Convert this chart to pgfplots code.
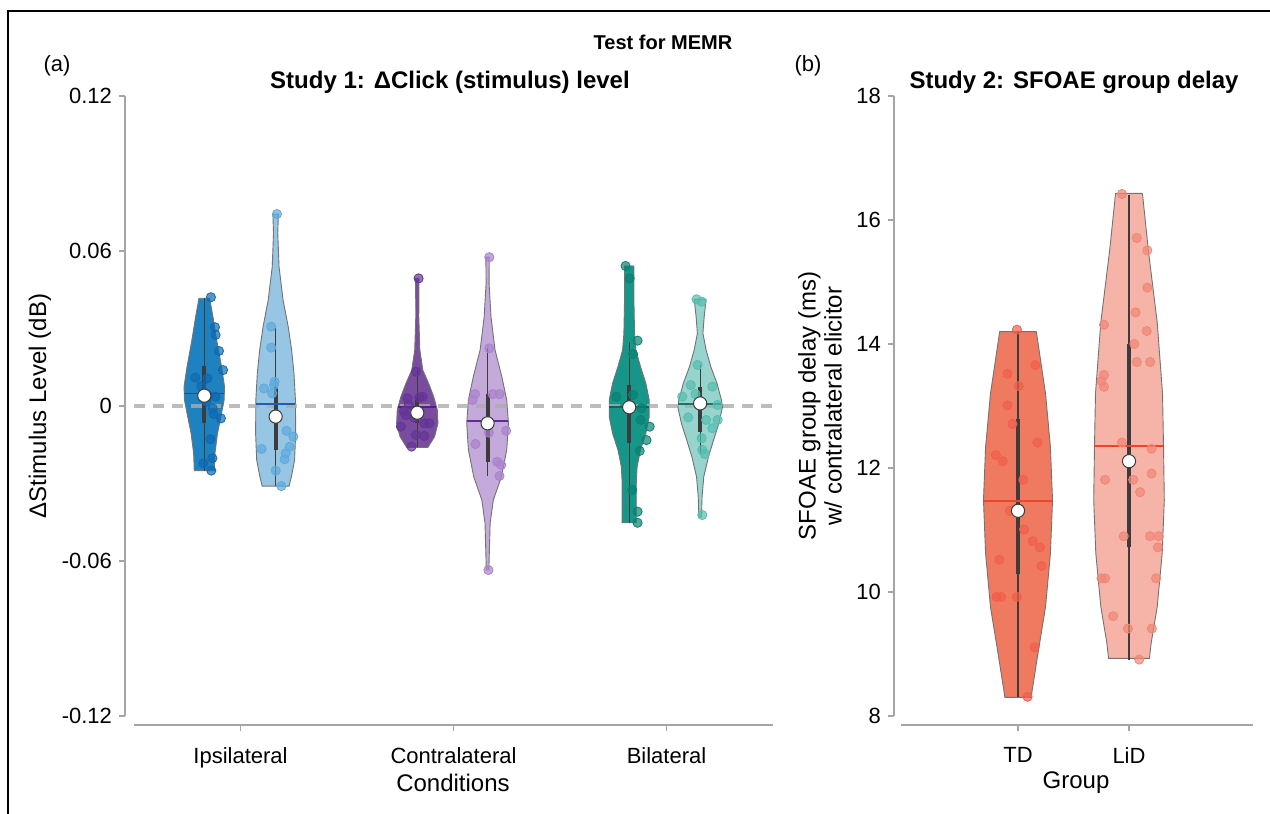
\documentclass[border=0pt]{standalone}
\usepackage{pgfplots}
\pgfplotsset{compat=1.18}
\usepackage{pgfplotstable}
\usepackage{fontspec}
\setmainfont{Liberation Sans}

\definecolor{ipdF}{RGB}{30,130,192}
\definecolor{ipdP}{RGB}{15,105,175}
\definecolor{ipdM}{RGB}{25,80,165}
\definecolor{iplF}{RGB}{150,198,228}
\definecolor{iplP}{RGB}{95,170,220}
\definecolor{iplM}{RGB}{30,95,180}
\definecolor{cdF}{RGB}{122,76,160}
\definecolor{cdP}{RGB}{100,52,150}
\definecolor{cdM}{RGB}{85,30,140}
\definecolor{clF}{RGB}{195,170,218}
\definecolor{clP}{RGB}{170,130,205}
\definecolor{clM}{RGB}{95,45,150}
\definecolor{bdF}{RGB}{22,150,136}
\definecolor{bdP}{RGB}{10,130,115}
\definecolor{bdM}{RGB}{10,100,90}
\definecolor{blF}{RGB}{150,212,205}
\definecolor{blP}{RGB}{85,190,175}
\definecolor{blM}{RGB}{20,120,105}
\definecolor{tdF}{RGB}{240,122,96}
\definecolor{tdP}{RGB}{240,95,75}
\definecolor{ldF}{RGB}{246,180,168}
\definecolor{ldP}{RGB}{240,135,118}
\definecolor{redM}{RGB}{235,70,45}
\definecolor{vgray}{RGB}{115,115,115}
\definecolor{boxgray}{RGB}{60,60,60}
\definecolor{axgray}{RGB}{165,165,165}
\definecolor{zerogray}{RGB}{172,172,172}

% violin outlines: y, signed offset from the violin centre (x units)
\pgfplotstableread{
y d
0.0417 0.025
0.0346 0.0405
0.0256 0.058
0.0152 0.081
0.0075 0.095
0.0023 0.093
-0.0041 0.078
-0.0106 0.062
-0.0183 0.050
-0.0250 0.047
-0.0250 -0.047
-0.0183 -0.050
-0.0106 -0.062
-0.0041 -0.078
0.0023 -0.093
0.0075 -0.095
0.0152 -0.081
0.0256 -0.058
0.0346 -0.0405
0.0417 -0.025
0.0417 0.025
}\ipd
\pgfplotstableread{
y d
0.0743 0.013
0.0669 0.010
0.0539 0.016
0.0410 0.035
0.0307 0.059
0.0217 0.075
0.0127 0.086
0.0023 0.093
-0.0106 0.094
-0.0209 0.089
-0.0274 0.074
-0.0310 0.063
-0.0310 -0.063
-0.0274 -0.074
-0.0209 -0.089
-0.0106 -0.094
0.0023 -0.093
0.0127 -0.086
0.0217 -0.075
0.0307 -0.059
0.0410 -0.035
0.0539 -0.016
0.0669 -0.010
0.0743 -0.013
0.0743 0.013
}\ipl
\pgfplotstableread{
y d
0.0494 0.008
0.0346 0.007
0.0217 0.012
0.0139 0.026
0.0088 0.053
0.0036 0.077
-0.0015 0.094
-0.0067 0.097
-0.0119 0.081
-0.0160 0.050
-0.0160 -0.050
-0.0119 -0.081
-0.0067 -0.097
-0.0015 -0.094
0.0036 -0.077
0.0088 -0.053
0.0139 -0.026
0.0217 -0.012
0.0346 -0.007
0.0494 -0.008
0.0494 0.008
}\cod
\pgfplotstableread{
y d
0.0576 0.008
0.0475 0.007
0.0346 0.016
0.0217 0.035
0.0113 0.067
0.0023 0.090
-0.0067 0.098
-0.0170 0.090
-0.0274 0.065
-0.0364 0.027
-0.0454 0.012
-0.0635 0.006
-0.0635 -0.006
-0.0454 -0.012
-0.0364 -0.027
-0.0274 -0.065
-0.0170 -0.090
-0.0067 -0.098
0.0023 -0.090
0.0113 -0.067
0.0217 -0.035
0.0346 -0.016
0.0475 -0.007
0.0576 -0.008
0.0576 0.008
}\col
\pgfplotstableread{
y d
0.0542 0.022
0.0410 0.022
0.0281 0.025
0.0217 0.031
0.0152 0.053
0.0088 0.078
0.0023 0.094
-0.0041 0.094
-0.0106 0.078
-0.0170 0.053
-0.0235 0.037
-0.0299 0.033
-0.0452 0.033
-0.0452 -0.033
-0.0299 -0.033
-0.0235 -0.037
-0.0170 -0.053
-0.0106 -0.078
-0.0041 -0.094
0.0023 -0.094
0.0088 -0.078
0.0152 -0.053
0.0217 -0.031
0.0281 -0.025
0.0410 -0.022
0.0542 -0.022
0.0542 0.022
}\bid
\pgfplotstableread{
y d
0.0413 0.028
0.0346 0.019
0.0281 0.013
0.0217 0.028
0.0152 0.050
0.0088 0.079
0.0023 0.100
-0.0003 0.105
-0.0067 0.088
-0.0132 0.063
-0.0196 0.039
-0.0274 0.017
-0.0351 0.009
-0.0429 0.006
-0.0429 -0.006
-0.0351 -0.009
-0.0274 -0.017
-0.0196 -0.039
-0.0132 -0.063
-0.0067 -0.088
-0.0003 -0.105
0.0023 -0.100
0.0088 -0.079
0.0152 -0.050
0.0217 -0.028
0.0281 -0.013
0.0346 -0.019
0.0413 -0.028
0.0413 0.028
}\bil
\pgfplotstableread{
y d
14.20 0.165
13.20 0.248
12.34 0.292
11.48 0.311
10.62 0.292
9.76 0.248
8.90 0.170
8.30 0.118
8.30 -0.118
8.90 -0.170
9.76 -0.248
10.62 -0.292
11.48 -0.311
12.34 -0.292
13.20 -0.248
14.20 -0.165
14.20 0.165
}\tdv
\pgfplotstableread{
y d
16.43 0.121
15.50 0.175
14.35 0.254
13.20 0.302
12.34 0.311
11.48 0.318
10.62 0.299
9.76 0.254
9.18 0.200
8.93 0.184
8.93 -0.184
9.18 -0.200
9.76 -0.254
10.62 -0.299
11.48 -0.318
12.34 -0.311
13.20 -0.302
14.35 -0.254
15.50 -0.175
16.43 -0.121
16.43 0.121
}\ldv

\newcommand{\violin}[3]{% table, centre, fill
  \addplot[fill=#3, draw=vgray, line width=0.45pt, forget plot] table[x expr=#2+\thisrow{d}, y=y]{#1};
}
% centre, whisker lo, hi, box lo, hi, median, median left x, median right x, median colour
\newcommand{\vstats}[9]{%
  \addplot[boxgray, line width=0.6pt, forget plot] coordinates {(#1,#2) (#1,#3)};
  \addplot[boxgray, line width=2pt, forget plot] coordinates {(#1,#4) (#1,#5)};
  \addplot[#9, line width=0.8pt, forget plot] coordinates {(#7,#6) (#8,#6)};
}
\newcommand{\vmean}[2]{%
  \addplot[only marks, mark=*, mark size=3.3pt, mark options={fill=white, draw=boxgray, line width=0.5pt}, forget plot] coordinates {(#1,#2)};
}

\pgfplotsset{
  mystyle/.style={
    scale only axis,
    axis x line*=bottom, axis y line*=left,
    axis line style={axgray, line width=0.6pt, -},
    axis x line shift=4.5pt,
    tick align=outside,
    major tick length=3pt,
    tick style={axgray, line width=0.6pt},
    tick label style={font=\fontsize{11}{13}\selectfont},
    xticklabel style={yshift=-4.5pt},
    clip=false,
    scaled y ticks=false,
  },
  ptmark/.style={only marks, mark=*, mark size=2.3pt, mark options={draw=none, fill opacity=0.7}, forget plot},
}

\begin{document}
\begin{tikzpicture}
\useasboundingbox (0,0) rectangle (635pt,407pt);
\draw[black, line width=1pt] (4pt,0pt) -- (4pt,401.5pt) -- (635pt,401.5pt);

% ---------------- panel (a) ----------------
\begin{axis}[mystyle,
  at={(67pt,49pt)}, anchor=south west,
  width=319.5pt, height=310pt,
  axis y line shift=4.5pt,
  xmin=0.5, xmax=3.5, ymin=-0.12, ymax=0.12,
  xtick={1,2,3}, xticklabels={Ipsilateral,Contralateral,Bilateral},
  ytick={-0.12,-0.06,0,0.06,0.12}, yticklabels={-0.12,-0.06,0,0.06,0.12},
]
\violin{\ipd}{0.830}{ipdF}
\violin{\ipl}{1.165}{iplF}
\violin{\cod}{1.830}{cdF}
\violin{\col}{2.160}{clF}
\violin{\bid}{2.825}{bdF}
\violin{\bil}{3.158}{blF}

\addplot[zerogray, line width=2.2pt, dash pattern=on 5.5pt off 4pt, opacity=0.8, forget plot] coordinates {(0.5,0) (3.5,0)};

\addplot[ptmark, ipdP] coordinates {(0.861,0.0421) (0.880,0.0305) (0.883,0.0275) (0.899,0.0213) (0.918,0.0139) (0.788,0.0110) (0.816,0.0077) (0.845,0.0107) (0.840,0.0017) (0.883,0.0036) (0.873,-0.0031) (0.908,-0.0048) (0.859,-0.0129) (0.868,-0.0202) (0.826,-0.0222) (0.863,-0.0250) (0.850,0.0040) (0.870,-0.0010)};
\addplot[ptmark, iplP] coordinates {(1.171,0.0743) (1.144,0.0307) (1.144,0.0226) (1.110,0.0068) (1.157,0.0081) (1.160,0.0094) (1.149,0.0049) (1.216,-0.0096) (1.248,-0.0119) (1.231,-0.0158) (1.099,-0.0166) (1.212,-0.0183) (1.207,-0.0206) (1.165,-0.0250) (1.192,-0.0310)};
\addplot[ptmark, cdP] coordinates {(1.836,0.0494) (1.824,0.0133) (1.784,0.0030) (1.855,0.0036) (1.840,0.0033) (1.768,-0.0022) (1.776,-0.0035) (1.886,-0.0067) (1.863,-0.0067) (1.753,-0.0080) (1.824,-0.0112) (1.863,-0.0116) (1.803,-0.0157) (1.790,0.0005) (1.815,-0.0045)};
\addplot[ptmark, clP] coordinates {(2.168,0.0576) (2.168,0.0223) (2.101,0.0046) (2.090,0.0023) (2.184,0.0046) (2.216,0.0046) (2.166,-0.0103) (2.247,-0.0096) (2.103,-0.0147) (2.205,-0.0216) (2.224,-0.0228) (2.216,-0.0271) (2.164,-0.0635)};
\addplot[ptmark, bdP] coordinates {(2.808,0.0542) (2.827,0.0494) (2.864,0.0253) (2.843,0.0201) (2.765,0.0036) (2.843,0.0043) (2.882,-0.0009) (2.879,-0.0054) (2.921,-0.0080) (2.906,-0.0132) (2.874,-0.0174) (2.839,-0.0325) (2.864,-0.0409) (2.864,-0.0452)};
\addplot[ptmark, blP] coordinates {(3.141,0.0413) (3.165,0.0404) (3.146,0.0159) (3.114,0.0081) (3.215,0.0075) (3.074,0.0036) (3.136,0.0046) (3.240,0.0004) (3.102,-0.0044) (3.186,-0.0054) (3.240,-0.0054) (3.215,-0.0086) (3.165,-0.0125) (3.168,-0.0170) (3.180,-0.0186) (3.168,-0.0422)};

\vstats{0.830}{-0.0250}{0.0417}{-0.0067}{0.0156}{0.0049}{0.737}{0.923}{ipdM}
\vstats{1.165}{-0.0310}{0.0307}{-0.0170}{0.0073}{0.0008}{1.072}{1.258}{iplM}
\vstats{1.830}{-0.0160}{0.0139}{-0.0067}{0.0036}{-0.0003}{1.740}{1.920}{cdM}
\vstats{2.160}{-0.0271}{0.0223}{-0.0216}{0.0046}{-0.0057}{2.062}{2.258}{clM}
\vstats{2.825}{-0.0452}{0.0249}{-0.0142}{0.0081}{-0.0003}{2.731}{2.919}{bdM}
\vstats{3.158}{-0.0190}{0.0159}{-0.0099}{0.0075}{0.0008}{3.054}{3.262}{blM}
\vmean{0.830}{0.0040}
\vmean{1.165}{-0.0041}
\vmean{1.830}{-0.0026}
\vmean{2.160}{-0.0067}
\vmean{2.825}{-0.0005}
\vmean{3.158}{0.0010}
\end{axis}

% ---------------- panel (b) ----------------
\begin{axis}[mystyle,
  at={(450.5pt,49pt)}, anchor=south west,
  width=176pt, height=310pt,
  axis y line shift=3.5pt,
  xmin=-0.054, xmax=3.117, ymin=8, ymax=18,
  xtick={1,2}, xticklabels={TD,LiD},
  ytick={8,10,12,14,16,18}, yticklabels={8,10,12,14,16,18},
]
\violin{\tdv}{1}{tdF}
\violin{\ldv}{2}{ldF}
\addplot[ptmark, tdP] coordinates {(0.990,14.23) (1.156,13.66) (0.905,13.52) (1.006,13.32) (0.905,13.01) (0.950,12.71) (1.175,12.41) (0.800,12.21) (0.863,12.11) (1.048,11.81) (0.927,11.31) (1.054,11.01) (1.133,10.82) (1.197,10.72) (0.832,10.52) (1.213,10.42) (0.806,9.92) (0.848,9.92) (0.990,9.92) (1.149,9.11) (1.086,8.31)};
\addplot[ptmark, ldP] coordinates {(1.937,16.42) (2.070,15.71) (2.165,15.51) (2.165,14.91) (2.060,14.51) (2.159,14.21) (1.775,14.31) (2.048,14.00) (2.070,13.71) (2.190,13.71) (1.775,13.50) (1.752,13.40) (1.775,13.31) (1.937,12.41) (2.203,12.31) (1.784,11.81) (2.038,11.81) (2.100,11.61) (2.203,11.91) (1.952,10.90) (2.190,10.90) (2.267,10.90) (2.260,10.72) (1.752,10.22) (1.784,10.22) (2.244,10.22) (1.857,9.61) (1.990,9.41) (2.206,9.41) (2.092,8.91)};
\vstats{1}{8.30}{14.20}{10.29}{12.79}{11.47}{0.689}{1.311}{redM}
\vstats{2}{8.90}{16.40}{10.72}{14.00}{12.35}{1.689}{2.311}{redM}
\vmean{1}{11.31}
\vmean{2}{12.11}
\end{axis}

% ---------------- texts ----------------
\node[font=\fontsize{11}{13}\selectfont] at (28.5pt,374pt) {(a)};
\node[font=\fontsize{11}{13}\selectfont] at (404pt,374pt) {(b)};
\node[font=\bfseries\fontsize{10}{12}\selectfont] at (331.5pt,386pt) {Test for MEMR};
\node[font=\bfseries\fontsize{12}{14}\selectfont] at (225pt,366pt) {Study 1: {\char"0394}Click (stimulus) level};
\node[font=\bfseries\fontsize{12}{14}\selectfont] at (537pt,366pt) {Study 2: SFOAE group delay};
\node[font=\fontsize{12}{14}\selectfont, rotate=90] at (20pt,204pt) {{\char"0394}Stimulus Level (dB)};
\node[font=\fontsize{12}{13}\selectfont, rotate=90, align=center] at (410pt,204pt) {SFOAE group delay (ms)\\w/ contralateral elicitor};
\node[font=\fontsize{12}{14}\selectfont] at (226.5pt,15.5pt) {Conditions};
\node[font=\fontsize{12}{14}\selectfont] at (538pt,15.5pt) {Group};
\end{tikzpicture}
\end{document}
